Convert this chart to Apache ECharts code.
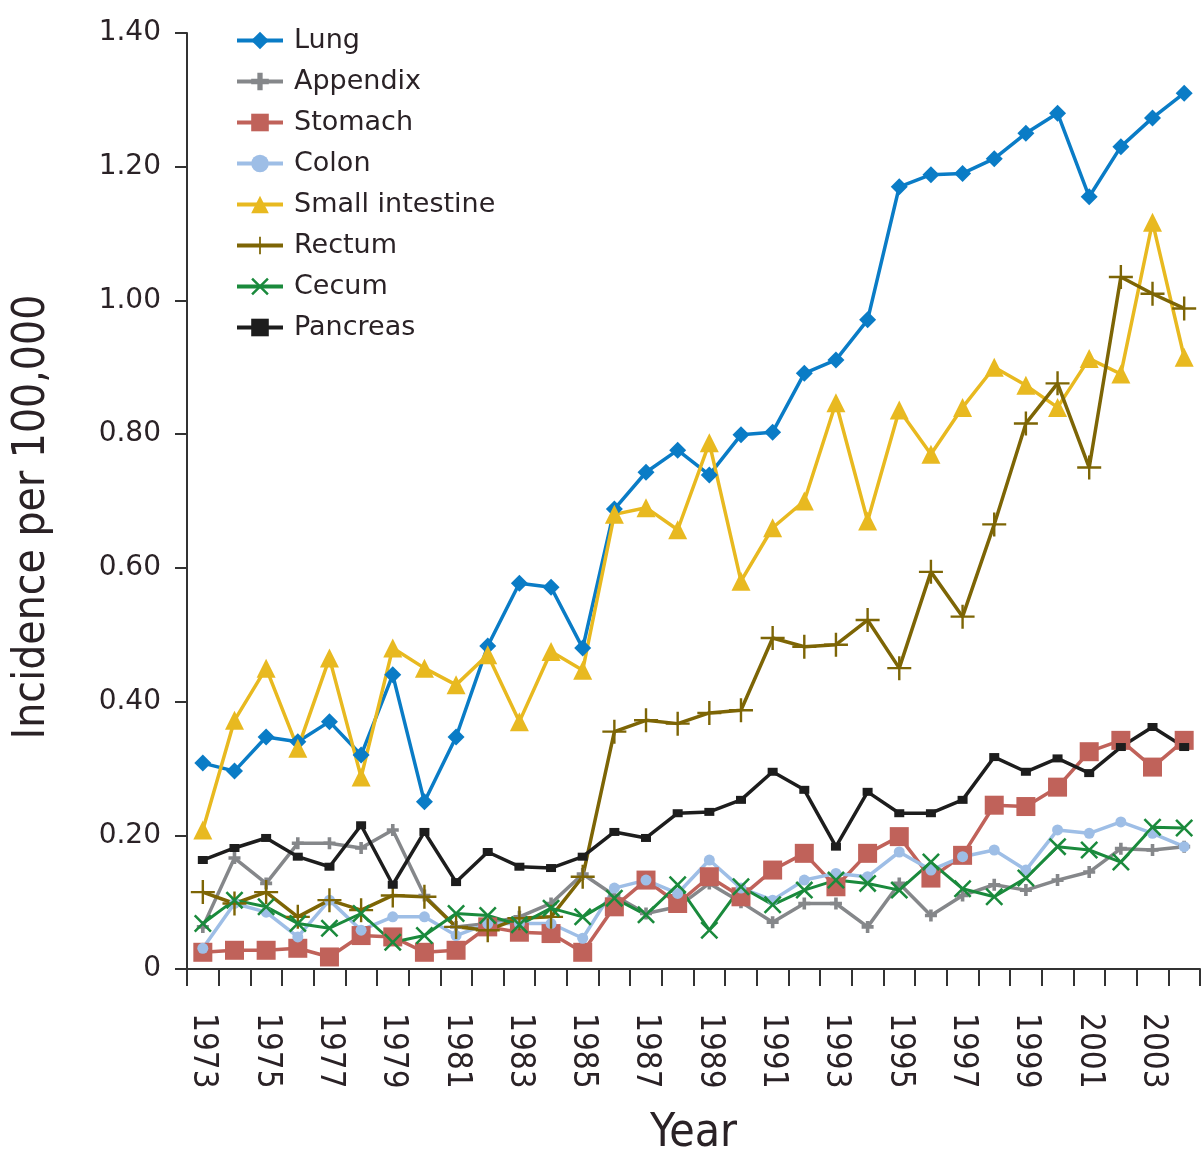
<!DOCTYPE html>
<html>
<head>
<meta charset="utf-8">
<script src="https://cdn.jsdelivr.net/npm/echarts@6/dist/echarts.min.js"></script>
<style>
html,body{margin:0;padding:0;background:#fff;}
#chart{width:1202px;height:1152px;}
</style>
</head>
<body>
<div id="chart"></div>
<script>
const years = ['1973','1974','1975','1976','1977','1978','1979','1980','1981','1982','1983','1984','1985','1986','1987','1988','1989','1990','1991','1992','1993','1994','1995','1996','1997','1998','1999','2000','2001','2002','2003','2004'];
const yTicks = [0, 0.2, 0.4, 0.6, 0.8, 1.0, 1.2, 1.4];

const lung = [0.308,0.296,0.347,0.340,0.370,0.320,0.440,0.250,0.347,0.483,0.577,0.571,0.480,0.688,0.743,0.776,0.739,0.799,0.803,0.891,0.911,0.971,1.170,1.188,1.190,1.212,1.250,1.280,1.155,1.230,1.273,1.310];
const appendix = [0.063,0.166,0.128,0.188,0.188,0.181,0.208,0.110,0.063,0.068,0.078,0.098,0.142,0.110,0.083,0.093,0.128,0.100,0.070,0.098,0.098,0.063,0.128,0.080,0.110,0.126,0.118,0.133,0.145,0.180,0.178,0.183];
const stomach = [0.025,0.028,0.028,0.031,0.018,0.050,0.048,0.025,0.028,0.063,0.055,0.053,0.025,0.093,0.133,0.098,0.138,0.108,0.148,0.173,0.123,0.173,0.198,0.136,0.170,0.245,0.243,0.272,0.325,0.342,0.302,0.342];
const colon = [0.031,0.098,0.085,0.048,0.103,0.058,0.078,0.078,0.050,0.068,0.068,0.068,0.046,0.121,0.133,0.113,0.163,0.121,0.103,0.133,0.143,0.138,0.175,0.148,0.168,0.178,0.148,0.208,0.203,0.220,0.203,0.183];
const smallIntestine = [0.208,0.372,0.450,0.330,0.465,0.287,0.480,0.450,0.425,0.470,0.370,0.475,0.447,0.680,0.690,0.657,0.787,0.580,0.660,0.700,0.847,0.670,0.836,0.770,0.840,0.900,0.873,0.840,0.913,0.890,1.117,0.915];
const rectum = [0.115,0.098,0.115,0.078,0.103,0.088,0.110,0.108,0.063,0.058,0.076,0.078,0.138,0.355,0.372,0.367,0.383,0.387,0.495,0.482,0.485,0.522,0.450,0.594,0.527,0.665,0.816,0.876,0.750,1.035,1.010,0.988];
const cecum = [0.068,0.103,0.093,0.068,0.061,0.083,0.040,0.050,0.083,0.080,0.066,0.091,0.078,0.106,0.081,0.126,0.058,0.123,0.096,0.118,0.133,0.128,0.118,0.160,0.120,0.108,0.136,0.183,0.178,0.160,0.212,0.211];
const pancreas = [0.163,0.181,0.196,0.168,0.153,0.215,0.126,0.205,0.130,0.175,0.153,0.151,0.168,0.205,0.196,0.233,0.235,0.253,0.295,0.268,0.183,0.265,0.233,0.233,0.253,0.317,0.295,0.315,0.293,0.332,0.362,0.332];

const PLUS_THIN = 'path://M9,0H11V9H20V11H11V20H9V11H0V9H9Z';
const PLUS_THICK = 'path://M7,0H13V7H20V13H13V20H7V13H0V7H7Z';
const XMARK = 'path://M0,2L2,0L10,8L18,0L20,2L12,10L20,18L18,20L10,12L2,20L0,18L8,10Z';

function mk(name, data, color, symbol, size, width) {
  return {
    name: name, type: 'line', data: data,
    symbol: symbol, symbolSize: size, showSymbol: true, showAllSymbol: true,
    lineStyle: { color: color, width: width || 3.5 },
    itemStyle: { color: color },
    emphasis: { disabled: true },
    animation: false
  };
}

const chart = echarts.init(document.getElementById('chart'));
const option = {
  backgroundColor: '#ffffff',
  animation: false,
  grid: { left: 187, right: 2, top: 33, bottom: 183, containLabel: false, outerBoundsMode: 'none' },
  legend: {
    orient: 'vertical', left: 230, top: 22,
    itemWidth: 46, itemHeight: 22, itemGap: 14,
    lineStyle: { width: 4 },
    textStyle: { fontFamily: 'DejaVu Sans', fontSize: 27, color: '#2a2226', padding: [0,0,0,6] },
    data: ['Lung','Appendix','Stomach','Colon','Small intestine','Rectum','Cecum','Pancreas']
  },
  xAxis: {
    type: 'category', data: years, boundaryGap: true,
    name: 'Year', nameLocation: 'middle', nameGap: 142,
    nameTextStyle: { fontFamily: 'Liberation Sans Narrow, DejaVu Sans Condensed, sans-serif', fontSize: 46, color: '#2a2226', verticalAlign: 'top' },
    axisLine: { show: true, lineStyle: { color: '#333', width: 2 } },
    axisTick: { show: true, interval: 0, length: 17, lineStyle: { color: '#333', width: 2 } },
    axisLabel: { interval: 1, rotate: -90, margin: 44, fontFamily: 'Liberation Sans Narrow, DejaVu Sans Condensed, sans-serif', fontSize: 33, color: '#2a2226' },
    splitLine: { show: false }
  },
  yAxis: {
    type: 'value', min: 0, max: 1.4, interval: 0.2,
    name: 'Incidence per 100,000', nameLocation: 'middle', nameGap: 132,
    nameTextStyle: { fontFamily: 'Liberation Sans Narrow, DejaVu Sans Condensed, sans-serif', fontSize: 44, color: '#2a2226', padding: [0, 32, 0, 0] },
    axisLine: { show: true, lineStyle: { color: '#333', width: 2 } },
    axisTick: { show: true, length: 12, lineStyle: { color: '#333', width: 2 } },
    axisLabel: {
      margin: 26, fontFamily: 'DejaVu Sans', fontSize: 28, color: '#2a2226',
      formatter: function (v) { return v === 0 ? '0' : v.toFixed(2); }
    },
    splitLine: { show: false }
  },
  series: [
    mk('Lung', lung, '#0a7cc6', 'diamond', 17),
    mk('Appendix', appendix, '#85878a', PLUS_THICK, 12),
    mk('Stomach', stomach, '#c0625a', 'rect', 19),
    mk('Colon', colon, '#9ebee6', 'circle', 11),
    mk('Small intestine', smallIntestine, '#e8b920', 'triangle', 19),
    mk('Rectum', rectum, '#7d6505', PLUS_THIN, 24),
    mk('Cecum', cecum, '#1a8a3c', XMARK, 18, 3),
    mk('Pancreas', pancreas, '#1d1d1d', 'rect', [10, 8])
  ]
};
chart.setOption(option);
</script>
</body>
</html>
